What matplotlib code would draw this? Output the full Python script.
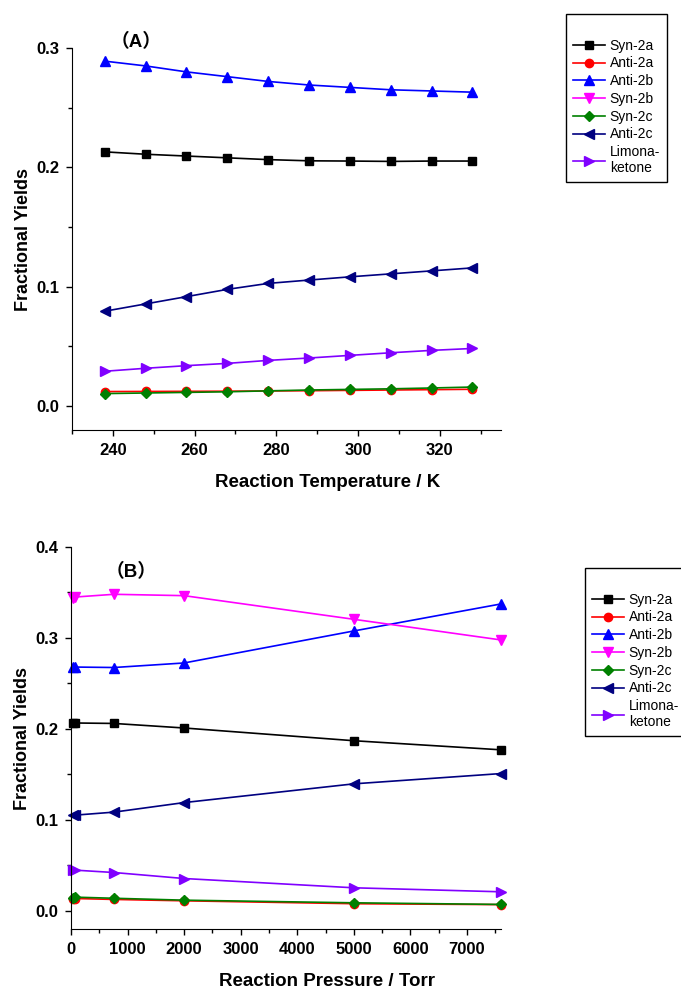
import numpy as np
import matplotlib
matplotlib.use('Agg')
import matplotlib.pyplot as plt
from matplotlib.ticker import MultipleLocator

plt.rcParams['font.family'] = ['Liberation Sans', 'Noto Sans CJK SC', 'DejaVu Sans']

# Panel A: temperature dependence (K)
temp = [238, 248, 258, 268, 278, 288, 298, 308, 318, 328]
a_syn2a = [0.213, 0.211, 0.2095, 0.208, 0.2065, 0.2055, 0.2053, 0.205, 0.2053, 0.2053]
a_anti2a = [0.0122, 0.0123, 0.0124, 0.0125, 0.0127, 0.0129, 0.0132, 0.0135, 0.0138, 0.0141]
a_anti2b = [0.289, 0.285, 0.280, 0.276, 0.272, 0.269, 0.267, 0.265, 0.264, 0.263]
a_syn2b = []  # off scale in the original panel
a_syn2c = [0.0105, 0.011, 0.0115, 0.012, 0.0128, 0.0135, 0.014, 0.0145, 0.0152, 0.016]
a_anti2c = [0.0795, 0.0856, 0.0917, 0.0978, 0.1028, 0.1056, 0.1083, 0.1108, 0.1133, 0.1158]
a_limona = [0.0292, 0.0317, 0.0339, 0.0358, 0.0383, 0.0403, 0.0425, 0.0447, 0.0467, 0.0483]

# Panel B: pressure dependence (Torr)
press = [30, 76, 760, 2000, 5000, 7600]
b_syn2a = [0.207, 0.2065, 0.206, 0.201, 0.187, 0.177]
b_anti2a = [0.0135, 0.0135, 0.0125, 0.011, 0.0078, 0.0068]
b_anti2b = [0.268, 0.268, 0.2675, 0.2725, 0.3077, 0.3374]
b_syn2b = [0.344, 0.345, 0.348, 0.3465, 0.3205, 0.2978]
b_syn2c = [0.0146, 0.015, 0.0138, 0.0117, 0.0088, 0.0070]
b_anti2c = [0.1052, 0.1052, 0.1085, 0.119, 0.1396, 0.1509]
b_limona = [0.0447, 0.0447, 0.0421, 0.0355, 0.0253, 0.0209]

labels = ['Syn-2a', 'Anti-2a', 'Anti-2b', 'Syn-2b', 'Syn-2c', 'Anti-2c', 'Limona-\nketone']
colors = ['black', 'red', 'blue', '#ff00ff', '#008000', '#000080', '#8000ff']
markers = ['s', 'o', '^', 'v', 'D', '<', '>']
msizes = [5.5, 6, 6.5, 6.5, 5.5, 6.5, 6.5]

fig = plt.figure(figsize=(6.81, 9.91), dpi=100)
W, H = 681.0, 991.0


def make_panel(rect, x, series, xlim, ylim, xmaj, xmin, ymaj, ymin, xlabel, tag, tag_xy, leg_xy):
    ax = fig.add_axes(rect)
    for ys, lab, c, m, ms in zip(series, labels, colors, markers, msizes):
        if len(ys):
            ax.plot(x, ys, color=c, marker=m, markersize=ms, linewidth=1.2, label=lab, clip_on=False)
        else:
            ax.plot([], [], color=c, marker=m, markersize=ms, linewidth=1.2, label=lab)
    ax.set_xlim(*xlim)
    ax.set_ylim(*ylim)
    ax.spines['top'].set_visible(False)
    ax.spines['right'].set_visible(False)
    ax.xaxis.set_major_locator(MultipleLocator(xmaj))
    ax.xaxis.set_minor_locator(MultipleLocator(xmin))
    ax.yaxis.set_major_locator(MultipleLocator(ymaj))
    ax.yaxis.set_minor_locator(MultipleLocator(ymin))
    ax.tick_params(which='major', direction='out', length=4.5, width=1, pad=4.5, labelsize=12)
    ax.tick_params(which='minor', direction='out', length=3, width=1)
    for t in ax.get_xticklabels() + ax.get_yticklabels():
        t.set_fontweight('bold')
    ax.set_xlabel(xlabel, fontsize=13.5, fontweight='bold', labelpad=12)
    ax.xaxis.label.set_x(0.595)
    ax.set_ylabel('Fractional Yields', fontsize=13, fontweight='bold', labelpad=3.5)
    fig.text(tag_xy[0] / W, 1 - tag_xy[1] / H, tag, fontsize=13.5, fontweight='bold',
             ha='left', va='baseline')
    leg = fig.legend(*ax.get_legend_handles_labels(), loc='upper left',
                     bbox_to_anchor=(leg_xy[0] / W, 1 - leg_xy[1] / H),
                     bbox_transform=fig.transFigure, fontsize=10, title=' ',
                     title_fontsize=10, frameon=True, fancybox=False, framealpha=1,
                     edgecolor='black', labelspacing=0.27, handlelength=2.3,
                     handletextpad=0.35, borderpad=0.5, borderaxespad=0)
    leg.get_frame().set_linewidth(1.0)
    for t in leg.get_texts():
        t.set_multialignment('left')
    return ax


# Panel A
make_panel([72 / W, 1 - 430 / H, 429 / W, 382 / H], temp,
           [a_syn2a, a_anti2a, a_anti2b, a_syn2b, a_syn2c, a_anti2c, a_limona],
           (230, 335), (-0.02, 0.3), 20, 10, 0.1, 0.05,
           'Reaction Temperature / K', '（A）', (111, 47), (566, 14))

# Panel B
make_panel([71 / W, 1 - 929 / H, 430 / W, 382 / H], press,
           [b_syn2a, b_anti2a, b_anti2b, b_syn2b, b_syn2c, b_anti2c, b_limona],
           (0, 7600), (-0.02, 0.4), 1000, 500, 0.1, 0.05,
           'Reaction Pressure / Torr', '（B）', (106, 577), (585, 568))

fig.savefig('out.png', dpi=100)
